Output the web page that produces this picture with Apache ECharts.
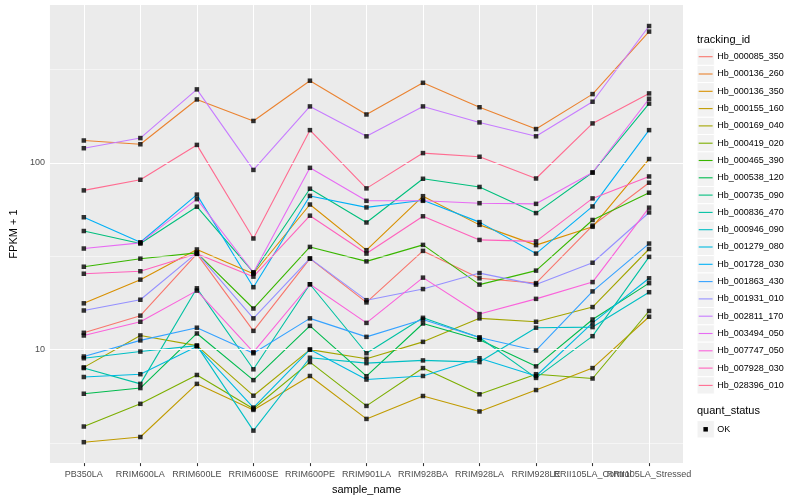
<!DOCTYPE html>
<html><head><meta charset="utf-8">
<script src="https://cdn.jsdelivr.net/npm/echarts/dist/echarts.min.js"></script>
<style>html,body{margin:0;padding:0;background:#fff}#c{width:800px;height:500px}</style>
</head><body><div id="c"></div>
<script>
// ---- data ----
const categories = ['PB350LA','RRIM600LA','RRIM600LE','RRIM600SE','RRIM600PE','RRIM901LA','RRIM928BA','RRIM928LA','RRIM928LE','RRII105LA_Control','RRII105LA_Stressed'];
const trackingIds = ['Hb_000085_350','Hb_000136_260','Hb_000136_350','Hb_000155_160','Hb_000169_040','Hb_000419_020','Hb_000465_390','Hb_000538_120','Hb_000735_090','Hb_000836_470','Hb_000946_090','Hb_001279_080','Hb_001728_030','Hb_001863_430','Hb_001931_010','Hb_002811_170','Hb_003494_050','Hb_007747_050','Hb_007928_030','Hb_028396_010'];
const yTickValues = [10, 100];
const yTickLabels = ['10', '100'];

const hb_000085_350 = [12.3, 15.2, 32.6, 12.6, 30.7, 17.9, 33.8, 24.1, 22.7, 46.2, 78.4];
const hb_000136_260 = [132, 126, 219, 168, 276, 182, 269, 199, 152, 234, 506];
const hb_000136_350 = [17.7, 23.7, 34.4, 25.5, 59.9, 34.1, 66.4, 46.6, 36.3, 45.5, 105];
const hb_000155_160 = [3.19, 3.40, 6.55, 4.75, 7.22, 4.25, 5.64, 4.66, 6.07, 7.96, 15.0];
const hb_000169_040 = [8.03, 11.9, 10.5, 5.66, 10.0, 8.93, 11.0, 14.7, 14.1, 16.9, 34.6];
const hb_000419_020 = [3.87, 5.12, 7.31, 4.82, 8.57, 4.99, 7.96, 5.76, 7.38, 7.00, 16.1];
const hb_000465_390 = [27.8, 30.7, 33.0, 16.6, 35.5, 29.7, 36.4, 22.3, 26.5, 49.5, 69.3];
const hb_000538_120 = [5.80, 6.22, 12.2, 6.86, 13.4, 7.20, 13.8, 11.3, 8.13, 14.5, 22.7];
const hb_000735_090 = [43.2, 37.0, 58.3, 25.9, 72.8, 48.0, 82.3, 74.4, 53.9, 88.9, 208];
const hb_000836_470 = [7.96, 6.55, 21.3, 7.84, 22.4, 9.56, 14.8, 11.6, 7.05, 11.8, 31.4];
const hb_000946_090 = [8.99, 9.76, 10.5, 3.68, 9.04, 8.46, 8.75, 8.57, 13.1, 13.2, 20.3];
const hb_001279_080 = [7.13, 7.38, 10.4, 4.89, 10.0, 6.91, 7.22, 8.99, 7.22, 13.9, 24.1];
const hb_001728_030 = [51.2, 37.6, 67.7, 21.6, 66.6, 57.8, 63.2, 48.2, 32.7, 58.5, 150];
const hb_001863_430 = [9.18, 11.2, 13.1, 9.56, 14.7, 11.7, 14.5, 11.6, 9.89, 20.5, 37.0];
const hb_001931_010 = [16.2, 18.5, 33.0, 14.7, 30.8, 18.4, 21.1, 25.7, 22.3, 29.2, 54.3];
const hb_002811_170 = [120, 136, 248, 91.8, 201, 139, 201, 165, 139, 213, 542];
const hb_003494_050 = [34.8, 37.3, 64.0, 25.9, 94.2, 62.7, 62.7, 60.9, 60.4, 88.9, 221];
const hb_007747_050 = [11.9, 14.1, 20.7, 9.68, 22.4, 13.9, 24.3, 15.5, 18.7, 23.0, 57.6];
const hb_007928_030 = [25.5, 26.3, 32.6, 24.6, 52.2, 32.7, 51.8, 38.7, 38.0, 64.6, 84.7];
const hb_028396_010 = [71.3, 81.3, 125, 39.4, 150, 73.1, 113, 108, 82.6, 163, 236];

const seriesValues = [hb_000085_350, hb_000136_260, hb_000136_350, hb_000155_160, hb_000169_040,
  hb_000419_020, hb_000465_390, hb_000538_120, hb_000735_090, hb_000836_470, hb_000946_090,
  hb_001279_080, hb_001728_030, hb_001863_430, hb_001931_010, hb_002811_170, hb_003494_050,
  hb_007747_050, hb_007928_030, hb_028396_010];

// ---- styles ----
const colors = ['#F8766D','#EA8331','#D89000','#C09B00','#A3A500','#7CAE00','#39B600','#00BB4E','#00BF7D','#00C1A3','#00BFC4','#00BAE0','#00B0F6','#35A2FF','#9590FF','#C77CFF','#E76BF3','#FA62DB','#FF62BC','#FF6C91'];
const FONT = '"Liberation Sans", Arial, Helvetica, sans-serif';

const chart = echarts.init(document.getElementById('c'), null, {renderer: 'canvas'});

const catIdx = categories.map((c, i) => i);
// two label axes (even / odd positions) so that touching labels are both kept
const evenIdx = catIdx.filter(i => i % 2 === 0);
const oddIdx = catIdx.filter(i => i % 2 === 1);

const lineSeries = seriesValues.map((vals, i) => ({
  type: 'line', name: trackingIds[i], xAxisIndex: 0,
  data: vals.map((v, j) => [j, v]),
  showSymbol: false, symbol: 'none',
  lineStyle: {color: colors[i], width: 1.1},
  itemStyle: {color: colors[i]},
  z: 3, silent: true, animation: false
}));

const pointSeries = {
  type: 'scatter', name: 'OK', xAxisIndex: 0,
  data: seriesValues.flatMap(vals => vals.map((v, j) => [j, v])),
  symbol: 'rect', symbolSize: 4.5,
  itemStyle: {color: '#000'}, z: 5, silent: true, animation: false
};

const major = {color: '#fff', width: 1.07, type: 'solid'};
const minor = {color: '#fff', width: 0.53, type: 'solid'};
const gridSeries = {
  type: 'line', data: [], silent: true, z: 1, animation: false, xAxisIndex: 0,
  markLine: {
    silent: true, symbol: ['none', 'none'], label: {show: false}, animation: false,
    emphasis: {disabled: true},
    data: [
      ...catIdx.map(j => ({xAxis: j, lineStyle: major})),
      ...yTickValues.map(v => ({yAxis: v, lineStyle: major})),
      ...[Math.pow(10, 0.5), Math.pow(10, 1.5), Math.pow(10, 2.5)].map(v => ({yAxis: v, lineStyle: minor}))
    ]
  }
};

// legend drawn with graphic elements
const legendLeft = 697, keyW = 17.3, keyH = 17.3, firstCenter = 56.7;
const graphics = [];
graphics.push({type: 'text', left: legendLeft, top: 34, style: {text: 'tracking_id', font: '11px ' + FONT, fill: '#000'}});
trackingIds.forEach((name, i) => {
  const cy = firstCenter + keyH * i;
  graphics.push({type: 'rect', shape: {x: legendLeft, y: cy - keyH / 2, width: keyW, height: keyH}, style: {fill: '#F2F2F2', stroke: '#fff', lineWidth: 1}, z: 10});
  graphics.push({type: 'line', shape: {x1: legendLeft + 1.7, y1: cy, x2: legendLeft + keyW - 1.7, y2: cy}, style: {stroke: colors[i], lineWidth: 1.1}, z: 11});
  graphics.push({type: 'text', x: legendLeft + keyW + 3, y: cy, style: {text: name, font: '9px ' + FONT, fill: '#000', textVerticalAlign: 'middle', verticalAlign: 'middle'}, z: 11});
});
graphics.push({type: 'text', left: legendLeft, top: 405, style: {text: 'quant_status', font: '11px ' + FONT, fill: '#000'}});
const okCy = 429.3;
graphics.push({type: 'rect', shape: {x: legendLeft, y: okCy - keyH / 2, width: keyW, height: keyH}, style: {fill: '#F2F2F2', stroke: '#fff', lineWidth: 1}, z: 10});
graphics.push({type: 'rect', shape: {x: legendLeft + keyW / 2 - 2.25, y: okCy - 2.25, width: 4.5, height: 4.5}, style: {fill: '#000'}, z: 11});
graphics.push({type: 'text', x: legendLeft + keyW + 3, y: okCy, style: {text: 'OK', font: '9px ' + FONT, fill: '#000', textVerticalAlign: 'middle', verticalAlign: 'middle'}, z: 11});

const tickStyle = {show: true, length: 3, lineStyle: {color: '#333', width: 1.07}};
const labelStyle = {formatter: v => categories[Math.round(v)], color: '#4D4D4D', fontSize: 9, margin: 7, fontFamily: FONT, hideOverlap: false, showMinLabel: true, showMaxLabel: true};

chart.setOption({
  animation: false,
  backgroundColor: '#fff',
  textStyle: {fontFamily: FONT},
  grid: {left: 40, right: 117, top: 5, bottom: 31, show: true, backgroundColor: '#EBEBEB', borderWidth: 0, containLabel: false},
  xAxis: [{
    type: 'value', min: -0.6, max: 10.6, position: 'bottom', offset: 0,
    axisLine: {show: false},
    axisTick: Object.assign({customValues: evenIdx}, tickStyle),
    axisLabel: Object.assign({customValues: evenIdx}, labelStyle),
    splitLine: {show: false},
    name: 'sample_name', nameLocation: 'middle', nameGap: 14,
    nameTextStyle: {color: '#000', fontSize: 11, fontFamily: FONT}
  }, {
    type: 'value', min: -0.6, max: 10.6, position: 'bottom', offset: 0,
    axisLine: {show: false},
    axisTick: Object.assign({customValues: oddIdx}, tickStyle),
    axisLabel: Object.assign({customValues: oddIdx}, labelStyle),
    splitLine: {show: false}
  }],
  yAxis: {
    type: 'log', logBase: 10, min: 2.464, max: 702.6,
    axisLine: {show: false},
    axisTick: Object.assign({customValues: yTickValues}, tickStyle),
    axisLabel: {customValues: yTickValues, formatter: v => yTickLabels[yTickValues.indexOf(Math.round(v))] ?? String(v), color: '#4D4D4D', fontSize: 9, margin: 5, fontFamily: FONT, showMinLabel: true, showMaxLabel: true},
    splitLine: {show: false}, minorSplitLine: {show: false},
    name: 'FPKM + 1', nameLocation: 'middle', nameGap: 23, nameRotate: 90,
    nameTextStyle: {color: '#000', fontSize: 11, fontFamily: FONT}
  },
  graphic: graphics,
  series: [gridSeries, ...lineSeries, pointSeries]
});
</script>
</body></html>
